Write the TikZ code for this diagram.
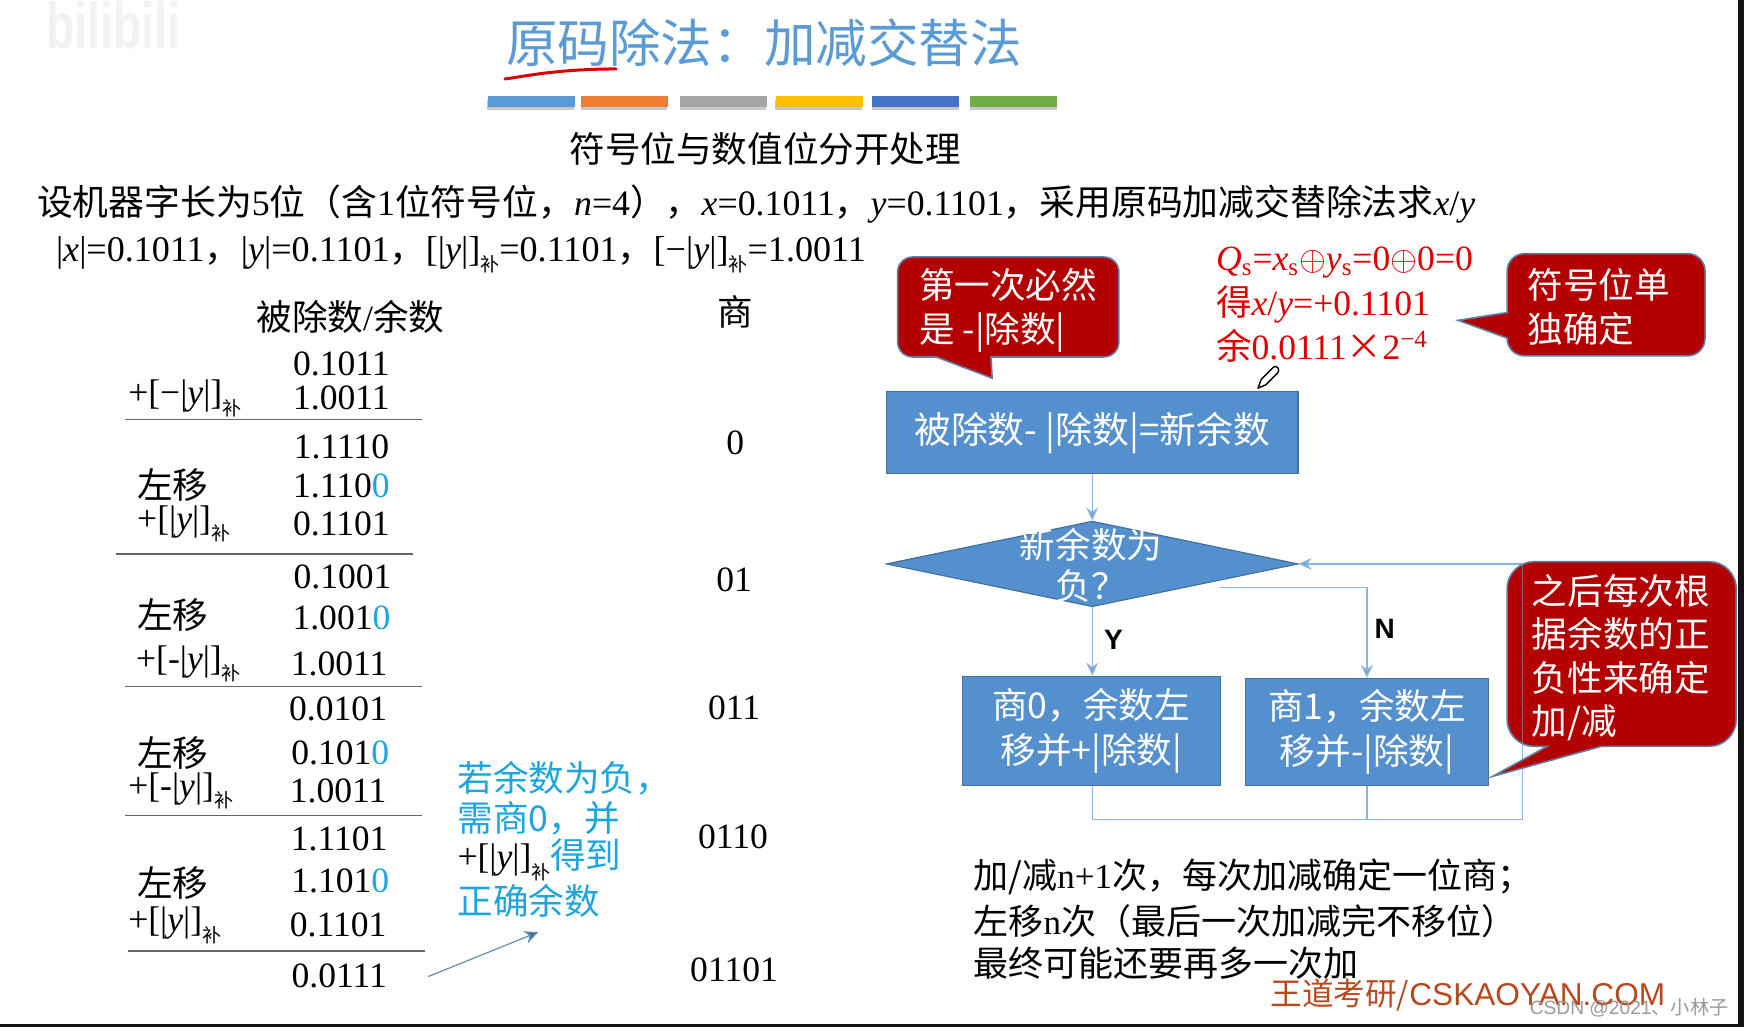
\documentclass[tikz,border=0pt]{standalone}
\usepackage{fontspec}
\setmainfont{Liberation Serif}
\newfontfamily\cjk{Noto Sans CJK SC}
\newfontfamily\sanslat{Liberation Sans}
\usetikzlibrary{shapes.geometric,arrows.meta}
\definecolor{titleblue}{HTML}{5B9BD5}
\definecolor{boxblue}{HTML}{5490CE}
\definecolor{boxedge}{HTML}{41719C}
\definecolor{linkblue}{HTML}{8DB4DE}
\definecolor{callred}{HTML}{B30000}
\definecolor{calledge}{HTML}{5E7FA6}
\definecolor{noteblue}{HTML}{1DA5DE}
\definecolor{redtext}{HTML}{E00000}
\definecolor{brand}{HTML}{B8491E}
\newcommand{\cj}[1]{{\cjk #1}}
\newcommand{\bzero}{\textcolor{noteblue}{0}}
\newcommand{\bu}{\raisebox{-0.3em}{\cjk\fontsize{9.5}{10}\selectfont 补}}
\newcommand{\vy}{\textit{y}}
\newcommand{\vx}{\textit{x}}
\tikzset{
  x=0.5561pt,y=-0.5561pt,
  txt/.style={inner sep=0pt,font=\fontsize{17.8}{21}\selectfont},
  num/.style={txt,anchor=center},
  lft/.style={txt,anchor=west},
  rule/.style={draw=black!60,line width=0.6pt},
  bar/.style={inner sep=0pt,minimum width=43.5pt,minimum height=5.6pt},
  barshadow/.style={fill=black!22},
  flowbox/.style={draw=boxedge,fill=boxblue,inner sep=0pt,line width=0.6pt,text=white,align=center,font=\fontsize{17.8}{22.2}\selectfont},
  flowdia/.style={diamond,aspect=4.8,draw=boxedge,fill=boxblue,inner sep=0pt,line width=0.6pt,minimum width=205.8pt,minimum height=42.8pt},
  link/.style={draw=linkblue,line width=0.7pt},
  linkarrow/.style={link,-{Stealth[length=6.5pt,width=6pt,fill=boxblue!85]}},
  callbox/.style={fill=callred,draw=calledge,line width=0.8pt},
  calltext/.style={inner sep=0pt,anchor=north west,align=left,text=white,font=\cjk\fontsize{17.8}{21.7}\selectfont},
  flag/.style={inner sep=0pt,font=\sanslat\bfseries\fontsize{14}{16}\selectfont}
}
\begin{document}
\begin{tikzpicture}
\useasboundingbox (0,0) rectangle (1568,923.4);
\fill[white] (0,0) rectangle (1568,923.4);
\fill[black!92] (0,920.5) rectangle (1568,923.4);
\fill[black!92] (1562.5,0) rectangle (1568,923.4);
% watermark
\node[inner sep=0pt,text=black!5,font=\sanslat\bfseries\fontsize{27}{27}\selectfont,xscale=0.86,yscale=1.2,transform shape] (wm) at (102,23) {bilibili};
% title
\node[inner sep=0pt,text=titleblue,font=\cjk\fontsize{25.8}{28}\selectfont] (title) at (687,38) {原码除法：加减交替法};
\draw[red!85!black,line width=1.5pt,line cap=round] (454,71) .. controls (470,69) and (500,62) .. (554,62);
% bars
\foreach \a/\c/\n in {438/5B9BD5/a,522/ED7D31/b,611/A5A5A5/c,697/FFC000/d,784/4472C4/e,872/70AD47/f}{
  \definecolor{barc}{HTML}{\c}
  \fill[barshadow] (\a,90) rectangle (\a+78,99);
  \node[bar,fill=barc,anchor=north west] (bar\n) at (\a,86) {};
}
% heading lines
\node[txt] (sub) at (688,134) {\cjk 符号位与数值位分开处理};
\node[lft,font=\fontsize{17.9}{21}\selectfont] (l1) at (33,183) {\cj{设机器字长为}5\cj{位（含}1\cj{位符号位，}\textit{n}=4\cj{），}\vx=0.1011\cj{，}\vy=0.1101\cj{，采用原码加减交替除法求}\vx/\vy};
\node[lft,font=\fontsize{18.05}{21}\selectfont] (l2) at (50,229) {|\vx|=0.1011\cj{，}|\vy|=0.1101\cj{，}[|\vy|]\bu=0.1101\cj{，}[−|\vy|]\bu=1.0011};
\node[txt] (hdiv) at (315,285) {\cj{被除数}/\cj{余数}};
\node[txt] (hq) at (661,280) {\cjk 商};
% table
\node[num] (n1) at (307,327) {0.1011};
\node[lft] (o1) at (115,358) {+[−|\vy|]\bu};
\node[num] (n2) at (307,358) {1.0011};
\draw[rule] (112,377) -- (379,377);
\node[num] (n3) at (307,402) {1.1110};
\node[lft] (s1) at (123,436) {\cjk 左移};
\node[num] (n4) at (307,437) {1.110\bzero};
\node[lft] (o2) at (123,471) {+[|\vy|]\bu};
\node[num] (n5) at (307,471) {0.1101};
\draw[rule] (104,498) -- (371,498);
\node[num] (n6) at (308,519) {0.1001};
\node[lft] (s2) at (123,553) {\cjk 左移};
\node[num] (n7) at (307,556) {1.001\bzero};
\node[lft] (o3) at (122,597) {+[-|\vy|]\bu};
\node[num] (n8) at (305,597) {1.0011};
\draw[rule] (112,617) -- (379,617);
\node[num] (n9) at (304,637) {0.0101};
\node[lft] (s3) at (123,677) {\cjk 左移};
\node[num] (n10) at (306,677) {0.101\bzero};
\node[lft] (o4) at (115,711) {+[-|\vy|]\bu};
\node[num] (n11) at (304,711) {1.0011};
\draw[rule] (112,733) -- (379,733);
\node[num] (n12) at (305,754) {1.1101};
\node[lft] (s4) at (123,794) {\cjk 左移};
\node[num] (n13) at (306,792) {1.101\bzero};
\node[lft] (o5) at (115,832) {+[|\vy|]\bu};
\node[num] (n14) at (304,832) {0.1101};
\draw[rule] (115,855) -- (382,855);
\node[num] (n15) at (305,877) {0.0111};
% quotient column
\node[num] (q1) at (661,398) {0};
\node[num] (q2) at (660,521) {01};
\node[num] (q3) at (660,636) {011};
\node[num] (q4) at (659,752) {0110};
\node[num] (q5) at (660,872) {01101};
% blue note
\node[lft,text=noteblue,font=\cjk\fontsize{17.8}{21}\selectfont] (b1) at (411,700) {若余数为负，};
\node[lft,text=noteblue,font=\cjk\fontsize{17.8}{21}\selectfont] (b2) at (411,736) {需商0，并};
\node[lft] (b3) at (411,773) {+[|\vy|]\bu\textcolor{noteblue}{\cj{得到}}};
\node[lft,text=noteblue,font=\cjk\fontsize{17.8}{21}\selectfont] (b4) at (411,810) {正确余数};
\coordinate (arrS) at (385,878);
\coordinate (arrE) at (484,838);
\draw[draw=boxedge!80,line width=0.6pt,-{Stealth[length=7pt,width=6.5pt,fill=boxedge]}] (arrS) -- (arrE);
% flowchart
\node[flowbox,minimum width=205.8pt,minimum height=41.2pt,font=\fontsize{18.4}{22.2}\selectfont] (box1) at (982,389) {\cj{被除数- |除数|=新余数}};
\node[flowdia] (dia) at (982,507) {};
\node[flowbox,fill=none,draw=none,font=\cjk\fontsize{17.8}{20.6}\selectfont] (diat) at (981,508) {新余数为\\负？};
\node[flowbox,minimum width=129pt,minimum height=54.5pt] (box2) at (981,657) {\cj{商0，余数左}\\\cj{移并+|除数|}};
\node[flowbox,minimum width=121.2pt,minimum height=53.4pt] (box3) at (1229,658) {\cj{商1，余数左}\\\cj{移并-|除数|}};
\draw[linkarrow] (box1.south) -- (dia.north);
\draw[linkarrow] (dia.south) -- (dia.south |- box2.north);
\coordinate (nS) at (1097,528);
\draw[linkarrow] (nS) -| (box3.north);
\coordinate (joinA) at (1369,737);
\draw[link] (dia.south |- box2.south) |- (joinA);
\draw[linkarrow] (joinA) |- (dia.east);
\draw[link] (box3.south) -- (box3.south |- joinA);
\node[flag] (fy) at (1001,575) {Y};
\node[flag] (fn) at (1245,565) {N};
% callouts
\draw[callbox] (821,231) -- (992,231) .. controls (1000,231) and (1006,237) .. (1006,245) -- (1006,307) .. controls (1006,315) and (1000,321) .. (992,321) -- (891,321) -- (892,340) -- (842,321) -- (821,321) .. controls (813,321) and (807,315) .. (807,307) -- (807,245) .. controls (807,237) and (813,231) .. (821,231) -- cycle;
\draw[callbox] (1371,228) -- (1517,228) .. controls (1526,228) and (1533,235) .. (1533,244) -- (1533,304) .. controls (1533,313) and (1526,320) .. (1517,320) -- (1371,320) .. controls (1362,320) and (1355,313) .. (1355,304) -- (1311,288) -- (1355,281) -- (1355,244) .. controls (1355,235) and (1362,228) .. (1371,228) -- cycle;
\draw[callbox] (1379,505) -- (1537,505) .. controls (1550,505) and (1561,516) .. (1561,529) -- (1561,647) .. controls (1561,660) and (1550,671) .. (1537,671) -- (1440,671) -- (1342,698) -- (1391,671) -- (1379,671) .. controls (1366,671) and (1355,660) .. (1355,647) -- (1355,529) .. controls (1355,516) and (1366,505) .. (1379,505) -- cycle;
\coordinate (seamT) at (1369,506);
\coordinate (seamB) at (1369,671);
\draw[link,opacity=0.55] (seamT) -- (seamB);
\node[calltext] (c1) at (826,241) {第一次必然\\是 -|除数|};
\node[calltext] (c2) at (1373,241) {符号位单\\独确定};
\node[calltext] (c3) at (1377,516) {之后每次根\\据余数的正\\负性来确定\\加/减};
% red text
\node[lft,text=redtext] (r1) at (1093,236) {\textit{Q}\textsubscript{s}=\textit{x}\textsubscript{s}$\oplus$\textit{y}\textsubscript{s}=0$\oplus$0=0};
\node[lft,text=redtext] (r2) at (1093,274) {\cj{得}\vx/\vy=+0.1101};
\node[lft,text=redtext] (r3) at (1093,311) {\cj{余}0.0111\cj{×}2\textsuperscript{−4}};
% pencil
\draw[black,line width=0.7pt,line join=round] (1131,349) -- (1134,341) -- (1145,330) .. controls (1148,328) and (1151,332) .. (1149,335) -- (1138,346) -- cycle;
% bottom text
\node[lft,font=\fontsize{17.5}{20}\selectfont] (t1) at (875,788) {\cj{加/减}n+1\cj{次，每次加减确定一位商；}};
\node[lft,font=\fontsize{17.5}{20}\selectfont] (t2) at (875,828) {\cj{左移}n\cj{次（最后一次加减完不移位）}};
\node[lft,font=\fontsize{17.5}{20}\selectfont] (t3) at (875,866) {\cjk 最终可能还要再多一次加};
\node[lft,text=brand,font=\cjk\fontsize{15.8}{18}\selectfont] (brandt) at (1142,895) {王道考研/\sanslat CSKAOYAN.COM};
\node[lft,text=black!40,font=\cjk\fontsize{9.6}{12}\selectfont] (wm2) at (1375,906) {\sanslat CSDN @2021\cjk 、小林子};
\end{tikzpicture}
\end{document}
